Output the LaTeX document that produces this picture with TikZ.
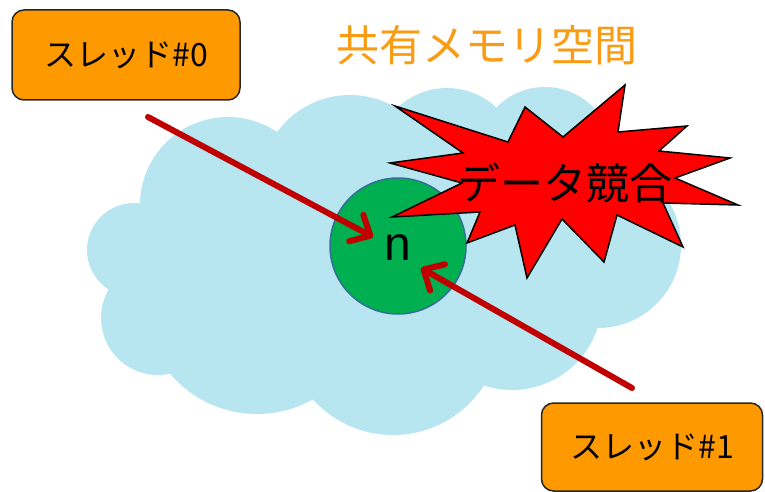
\documentclass[tikz,border=0pt]{standalone}
\usepackage{fontspec}
\setmainfont{Liberation Sans}
\newfontfamily\jpfont{Noto Sans CJK JP}
\usetikzlibrary{arrows.meta}
\definecolor{cloudblue}{RGB}{183,230,241}
\definecolor{boxorange}{RGB}{255,153,0}
\definecolor{titleorange}{RGB}{250,155,20}
\definecolor{arrowred}{RGB}{192,0,0}
\definecolor{nodegreen}{RGB}{0,176,80}
\definecolor{ringblue}{RGB}{50,110,150}
\tikzset{
  puff/.style={fill=cloudblue, draw=none},
  threadbox/.style={draw=black!85, line width=1.5pt, fill=boxorange, rounded corners=12pt,
    font=\jpfont\fontsize{32}{36}\selectfont, inner sep=0pt},
  racearrow/.style={draw=arrowred, line width=6pt, line cap=round,
    -{Straight Barb[length=16pt,width=30pt,round]}},
  burst/.style={fill=red, draw=black, line width=1.5pt, line join=miter},
}
\begin{document}
\begin{tikzpicture}[x=1pt,y=-1pt]
\useasboundingbox (0,0) rectangle (765,492);
% cloud as union of puffs
\fill[puff] (228,205) -- (350,185) -- (447,160) -- (545,155) -- (598,245) -- (512,300)
  -- (393,327) -- (257,300) -- (158,316) -- (134,250) -- cycle;
\fill[puff] (228,205) circle[radius=88];
\fill[puff] (350,185) circle[radius=90];
\fill[puff] (447,160) circle[radius=72];
\fill[puff] (545,155) circle[radius=68];
\fill[puff] (598,245) circle[radius=83];
\fill[puff] (512,300) circle[radius=90];
\fill[puff] (393,327) circle[radius=108];
\fill[puff] (257,300) circle[radius=114];
\fill[puff] (158,318) circle[radius=57];
\fill[puff] (134,250) circle[radius=47];
% shared variable
\node[circle, fill=nodegreen, draw=ringblue, line width=1.5pt, minimum size=136pt, inner sep=0pt] (var) at (398,246) {};
\node[font=\fontsize{48}{52}\selectfont] (nlabel) at (398,248) {n};
% data race burst
\filldraw[burst] (395,106) -- (508,142) -- (525,107) -- (563,137) -- (625,85) -- (618,132)
  -- (687,126) -- (659,151) -- (730,158) -- (675,178) -- (738,205) -- (663,203)
  -- (683,247) -- (617,215) -- (604,262) -- (562,219) -- (527,278) -- (515,225)
  -- (467,243) -- (480,212) -- (392,217) -- (462,183) -- (390,163) -- (463,153) -- cycle;
\node[font=\jpfont\fontsize{43}{48}\selectfont] (race) at (565,183) {データ競合};
% threads
\node[threadbox, minimum width=228pt, minimum height=90pt] (t0) at (126,55) {スレッド\#0};
\node[threadbox, minimum width=221pt, minimum height=88pt] (t1) at (652,447) {スレッド\#1};
% title
\node[font=\jpfont\fontsize{43}{48}\selectfont, text=titleorange] (title) at (487,45) {共有メモリ空間};
% arrows
\coordinate (a0s) at (148,117); \coordinate (a0e) at (373,237);
\coordinate (a1s) at (632,388); \coordinate (a1e) at (421,268);
\draw[racearrow] (a0s) -- (a0e);
\draw[racearrow] (a1s) -- (a1e);
\end{tikzpicture}
\end{document}
